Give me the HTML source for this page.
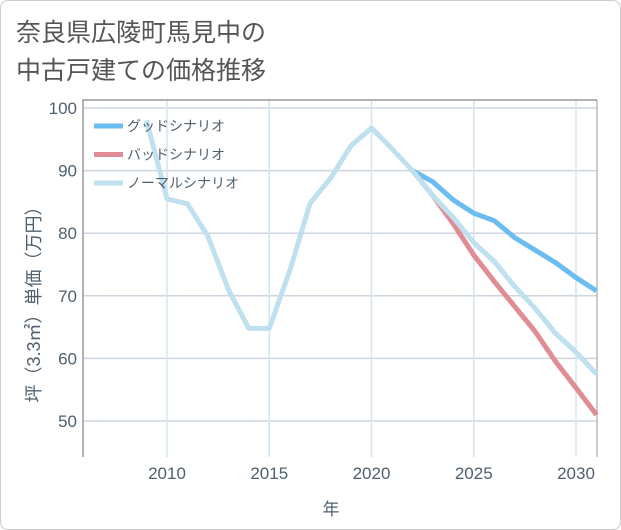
<!DOCTYPE html>
<html><head><meta charset="utf-8"><style>
body{margin:0;background:#fff;font-family:"Liberation Sans","Noto Sans CJK JP",sans-serif;}
#card{position:absolute;left:0;top:0;width:619px;height:528px;border:1px solid #ccc;border-radius:8px;background:#fff;}
</style></head><body>
<div id="card">
<svg width="621" height="530" style="position:absolute;left:-1px;top:-1px">
<text x="16" y="41" font-size="25" fill="#555">奈良県広陵町馬見中の</text>
<text x="16" y="79" font-size="25" fill="#555">中古戸建ての価格推移</text>
<g id="grid"></g>
<g id="series"></g>
<g id="legend"></g>
<text x="0" y="0" font-size="18" fill="#4f5f6f" transform="translate(40,300) rotate(-90)" text-anchor="middle">坪（3.3㎡）単価（万円）</text>
<text x="331" y="515" font-size="17" fill="#4f5f6f" text-anchor="middle">年</text>
</svg></div>
<script>
const years=[2009,2010,2011,2012,2013,2014,2015,2016,2017,2018,2019,2020,2021,2022,2023,2024,2025,2026,2027,2028,2029,2030,2031];
const normal=[98,85.5,84.7,79.5,71,64.8,64.8,74,84.8,88.8,94,96.8,93.5,90,86,82.5,78.5,75.5,71.5,68,64,61,57.5];
const goodYears=[2022,2023,2024,2025,2026,2027,2028,2029,2030,2031];
const good=[90,88.2,85.3,83.2,82,79.3,77.3,75.3,72.9,70.8];
const bad=[90,86,81.5,76.5,72.3,68.3,64.3,59.5,55.3,51];
const yTicks=[50,60,70,80,90,100];
const xTicks=[2010,2015,2020,2025,2030];
const X0=83,X1=597,Y0=100,Y1=457;
const xs=y=>167+(y-2010)*20.45;
const ys=v=>108+(100-v)*6.26;
const NS='http://www.w3.org/2000/svg';
function mk(t,a,p){const e=document.createElementNS(NS,t);for(const k in a)e.setAttribute(k,a[k]);p.appendChild(e);return e;}
const grid=document.getElementById('grid');
yTicks.forEach(v=>{
 const l=mk('line',{x1:X0,x2:X1,y1:ys(v),y2:ys(v),stroke:'#cdd6e0','stroke-width':1.5},grid);
 
 
 const t=mk('text',{x:77,y:ys(v)+6,'font-size':17,fill:'#4f5f6f','text-anchor':'end'},grid);t.textContent=v;
 
 
});
xTicks.forEach(v=>{
 const l=mk('line',{x1:xs(v),x2:xs(v),y1:Y0,y2:Y1,stroke:'#d3e5f0','stroke-width':1.5},grid);
 
 
 const t=mk('text',{x:xs(v),y:479,'font-size':17,fill:'#4f5f6f','text-anchor':'middle'},grid);t.textContent=v;
 
 
});
const ax=mk('path',{d:`M${X0} ${Y1}V${Y0}H${X1}`,fill:'none',stroke:'#999','stroke-width':1.5},grid);


const ax2=mk('line',{x1:X1,x2:X1,y1:Y0,y2:Y1,stroke:'#999','stroke-width':1},grid);


const sg=document.getElementById('series');
function line(xv,yv,c,n){
 const p=mk('polyline',{points:xv.map((x,i)=>xs(x)+','+ys(yv[i])).join(' '),fill:'none',stroke:c,'stroke-width':5,'stroke-linejoin':'round'},sg);
 
 
}
line(goodYears,good,'#6bbcf0','good-scenario-line');
line(goodYears,bad,'#e08c94','bad-scenario-line');
line(years,normal,'#bfe0ee','normal-scenario-line');
const lg=document.getElementById('legend');
[['グッドシナリオ','#6bbcf0'],['バッドシナリオ','#e08c94'],['ノーマルシナリオ','#bfe0ee']].forEach((d,i)=>{
 const y=126+i*28.5;
 const r=mk('line',{x1:94,x2:123,y1:y,y2:y,stroke:d[1],'stroke-width':5},lg);
 
 
 const t=mk('text',{x:127,y:y+5,'font-size':14,fill:'#4f5f6f'},lg);t.textContent=d[0];
 
 
});
</script>
</body></html>
